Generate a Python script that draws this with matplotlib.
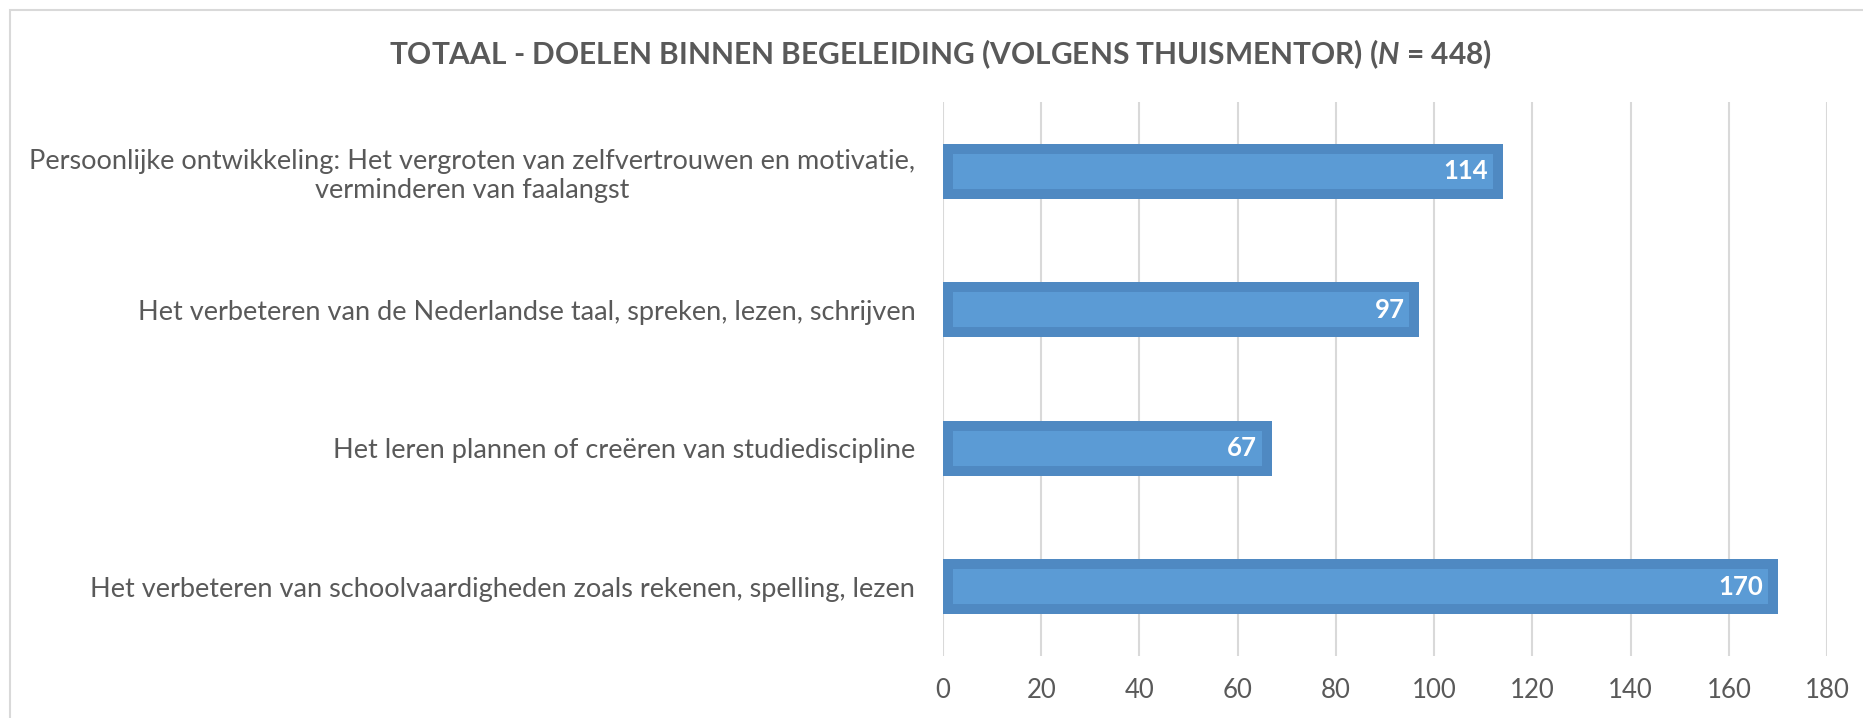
import matplotlib.pyplot as plt
from matplotlib.patches import Rectangle

# data
categories = [
    "Persoonlijke ontwikkeling: Het vergroten van zelfvertrouwen en motivatie,\nverminderen van faalangst",
    "Het verbeteren van de Nederlandse taal, spreken, lezen, schrijven",
    "Het leren plannen of creëren van studiediscipline",
    "Het verbeteren van schoolvaardigheden zoals rekenen, spelling, lezen",
]
counts = [114, 97, 67, 170]
x_ticks = [0, 20, 40, 60, 80, 100, 120, 140, 160, 180]

TEXT = "#595959"
GRID = "#D9D9D9"
BAR = "#5B9BD5"
BAR_EDGE = "#4F89C2"

plt.rcParams["font.family"] = ["Lato", "DejaVu Sans"]
plt.rcParams["mathtext.fontset"] = "custom"
plt.rcParams["mathtext.it"] = "Lato:italic:bold"
plt.rcParams["mathtext.rm"] = "Lato:bold"

fig = plt.figure(figsize=(18.63, 7.18), dpi=100)
ax = fig.add_axes([0.5062, 0.0864, 0.4745, 0.7716])

ypos = list(range(len(categories)))
bars = ax.barh(ypos, counts, height=0.4, color=BAR, edgecolor=BAR_EDGE,
               linewidth=14.4, zorder=3)
# keep only the inner half of the edge so the border sits inside the bar
for b in bars:
    b.set_clip_path(b)

for y, v in zip(ypos, counts):
    ax.annotate(str(v), (v, y), xytext=(-15, 0), textcoords="offset pixels",
                ha="right", va="center", color="white", fontsize=18.5,
                fontweight="bold", zorder=4)

ax.set_xlim(0, 180)
ax.set_ylim(-0.5, len(categories) - 0.5)
ax.invert_yaxis()
ax.set_xticks(x_ticks)
ax.set_yticks(ypos)
ax.set_yticklabels(categories, multialignment="center")
ax.tick_params(axis="y", length=0, colors=TEXT, labelsize=19.5, pad=20)
ax.tick_params(axis="x", length=0, colors=TEXT, labelsize=18.5, pad=16)
ax.grid(axis="x", color=GRID, linewidth=1.5, zorder=0)
ax.set_axisbelow(True)
for s in ax.spines.values():
    s.set_visible(False)

fig.text(0.505, 0.924, r"TOTAAL - DOELEN BINNEN BEGELEIDING (VOLGENS THUISMENTOR) ($\mathit{N}$ = 448)",
         ha="center", va="center", fontsize=21.5, fontweight="bold", color=TEXT)

fig.patches.append(Rectangle((10 / 1863, -0.05), 1.1, 1.05 - 10 / 718,
                             transform=fig.transFigure, fill=False,
                             edgecolor=GRID, linewidth=1.5))

fig.savefig("out.png", dpi=100)
